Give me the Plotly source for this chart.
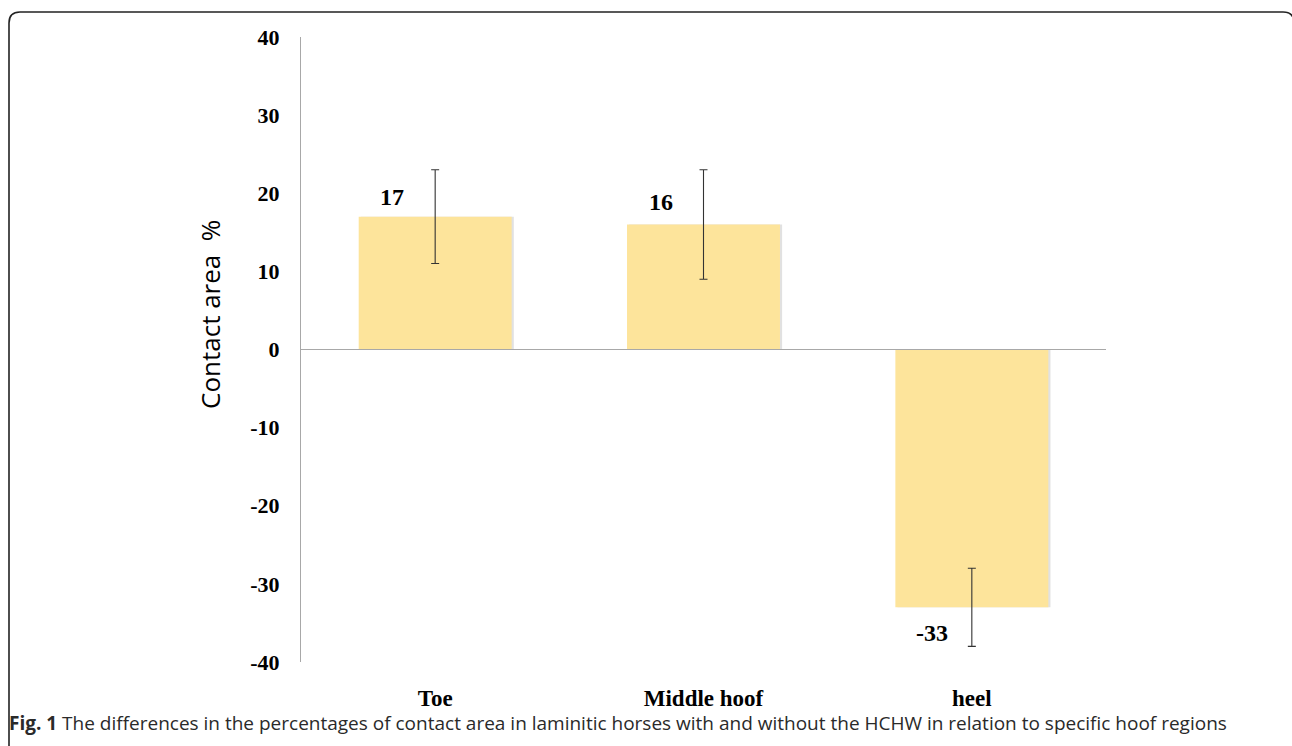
import plotly.graph_objects as go

# Hoof regions and the change in contact area (%), with error margins
regions = ["Toe", "Middle hoof", "heel"]
contact_change = [17, 16, -33]
error_margin = [6, 7, 5]
y_ticks = [40, 30, 20, 10, 0, -10, -20, -30, -40]

W, H = 1292, 746
L, R, T, B = 301, 186, 37, 84
plot_w, plot_h = W - L - R, H - T - B
BAR_W = 0.57


def px_x(p):
    return (p - L) / plot_w


def px_y(p):
    return (H - B - p) / plot_h


fig = go.Figure()

# soft drop shadow behind the bars
fig.add_trace(go.Bar(
    x=regions,
    y=contact_change,
    width=BAR_W,
    offset=-BAR_W / 2 + 0.008,
    marker=dict(color="rgba(120,120,120,0.22)", line=dict(width=0)),
    showlegend=False,
    hoverinfo="skip",
))

fig.add_trace(go.Bar(
    x=regions,
    y=contact_change,
    width=BAR_W,
    offset=-BAR_W / 2,
    marker=dict(color="#FDE49B", line=dict(width=0)),
    error_y=dict(type="data", array=error_margin, visible=True,
                 color="#333333", thickness=1.1, width=4),
    showlegend=False,
    hoverinfo="skip",
))

# value labels beside each bar
label_shift = {17: (-43, 20), 16: (-43, 23), -33: (-40, -26)}
for reg, val in zip(regions, contact_change):
    dx, dy = label_shift.get(val, (0, 20 if val >= 0 else -20))
    fig.add_annotation(
        x=reg, y=val, text=f"<b>{val}</b>", showarrow=False,
        xshift=dx, yshift=dy,
        font=dict(family="Liberation Serif", size=24, color="#000000"),
    )

# zero baseline
fig.add_shape(type="line", xref="paper", yref="y", x0=0, x1=1, y0=0, y1=0,
              line=dict(color="#A8A8A8", width=1.2))

# rounded frame around the figure panel
fx0, fx1, fy0, fy1, r = 9, 1294, 12, 760, 11
path = (f"M {px_x(fx0)},{px_y(fy1)} L {px_x(fx0)},{px_y(fy0 + r)} "
        f"Q {px_x(fx0)},{px_y(fy0)} {px_x(fx0 + r)},{px_y(fy0)} "
        f"L {px_x(fx1 - r)},{px_y(fy0)} "
        f"Q {px_x(fx1)},{px_y(fy0)} {px_x(fx1)},{px_y(fy0 + r)} "
        f"L {px_x(fx1)},{px_y(fy1)}")
fig.add_shape(type="path", xref="paper", yref="paper", path=path,
              line=dict(color="#222222", width=1.6))

# y-axis title
fig.add_annotation(
    xref="paper", yref="paper", x=px_x(210), y=px_y(315),
    xanchor="center", yanchor="middle", showarrow=False, textangle=-90,
    text="Contact area  %",
    font=dict(family="Open Sans", size=26, color="#000000"),
)

# caption
fig.add_annotation(
    xref="paper", yref="paper", x=px_x(7), y=px_y(723),
    xanchor="left", yanchor="middle", showarrow=False,
    text="<b>Fig. 1</b> The differences in the percentages of contact area in laminitic "
         "horses with and without the HCHW in relation to specific hoof regions",
    font=dict(family="Open Sans", size=19, color="#2a2a2a"),
)

fig.update_layout(
    width=W, height=H,
    margin=dict(l=L, r=R, t=T, b=B, autoexpand=False),
    paper_bgcolor="white", plot_bgcolor="white",
    barmode="overlay",
    xaxis=dict(
        showline=False, showgrid=False, zeroline=False,
        ticks="outside", ticklen=15, tickcolor="rgba(0,0,0,0)",
        tickfont=dict(family="Liberation Serif", size=23, color="#000000"),
        tickprefix="<b>", ticksuffix="</b>",
    ),
    yaxis=dict(
        range=[-40, 40],
        tickvals=y_ticks,
        ticktext=[f"<b>{v}</b>" for v in y_ticks],
        showline=True, linecolor="#A8A8A8", linewidth=1.2,
        showgrid=False, zeroline=False,
        ticks="outside", ticklen=16, tickcolor="rgba(0,0,0,0)",
        tickfont=dict(family="Liberation Serif", size=22, color="#000000"),
    ),
)

fig.write_html("out.html")
